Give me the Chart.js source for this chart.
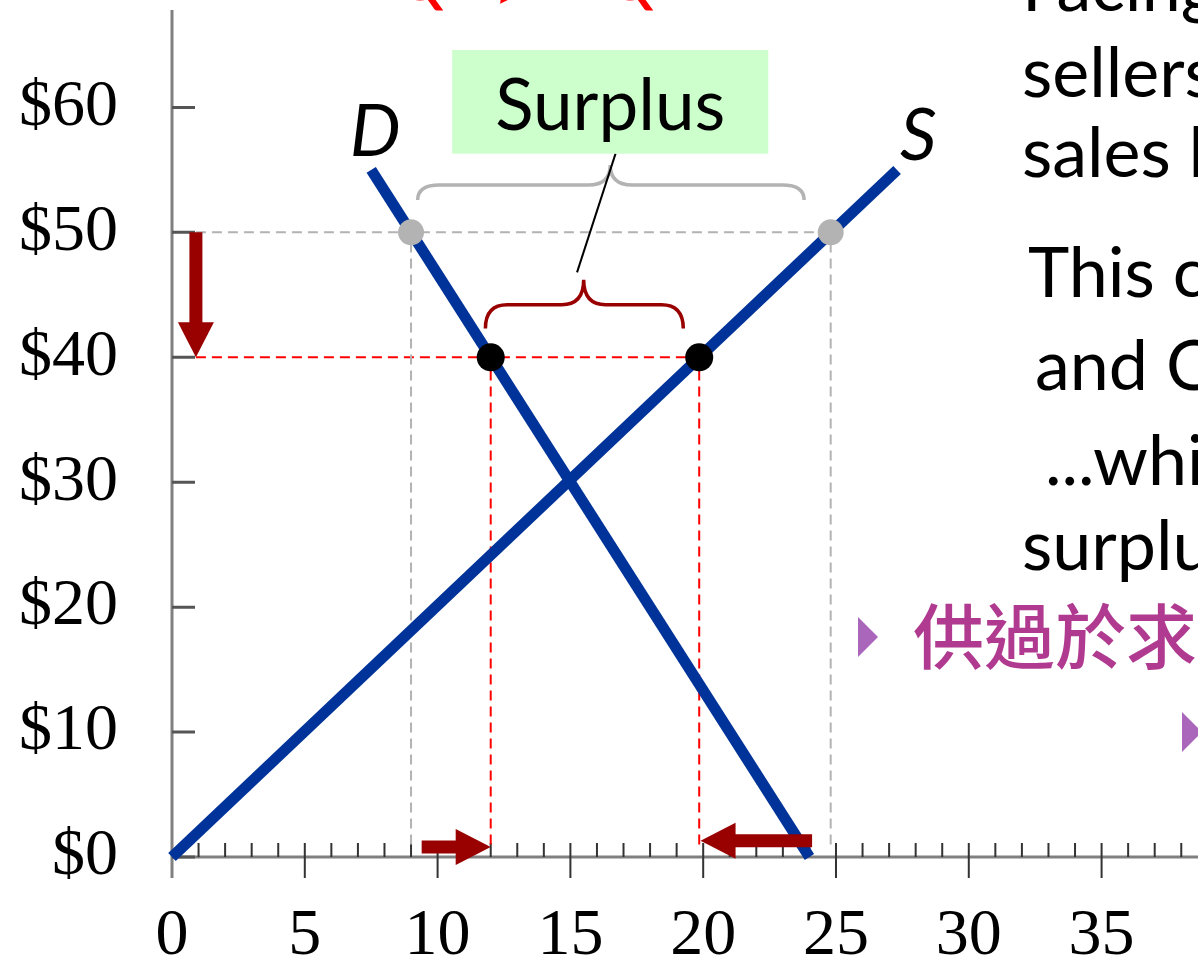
<!DOCTYPE html>
<html>
<head>
<meta charset="utf-8">
<script src="https://cdn.jsdelivr.net/npm/chart.js@4.4.1/dist/chart.umd.min.js"></script>
<style>
  html, body { margin: 0; padding: 0; background: #fff; overflow: hidden; }
  #wrap { position: relative; width: 1198px; height: 966px; overflow: hidden; }
  #chart { position: absolute; left: 0; top: 0; }
  .t { position: absolute; font-family: Lato, "Noto Sans", sans-serif; font-size: 70px; line-height: 70px; white-space: nowrap; color: #000; }
  .cjk { position: absolute; font-family: "Noto Sans CJK TC", sans-serif; font-weight: 500; font-size: 71px; line-height: 71px; white-space: nowrap; color: #b03a8f; }
  .red { position: absolute; font-family: Lato, sans-serif; font-style: italic; font-size: 70px; line-height: 70px; color: #ff0000; }
  .tri { position: absolute; width: 0; height: 0; border-top: 20px solid transparent; border-bottom: 20px solid transparent; border-left: 20px solid #a966bb; }
</style>
</head>
<body>
<div id="wrap">
  <canvas id="chart" width="1198" height="966"></canvas>

  <div class="red" style="left:396px; top:-62px;">Q</div>
  <div class="red" style="left:494px; top:-50px;">&gt;</div>
  <div class="red" style="left:606px; top:-62px;">Q</div>

  <div class="t" style="left:1022px; top:-51px;">Facing</div>
  <div class="t" style="left:1022px; top:35px;">sellers</div>
  <div class="t" style="left:1022px; top:115px;">sales b</div>
  <div class="t" style="left:1028px; top:235px;">This c</div>
  <div class="t" style="left:1035px; top:328px;">and Q</div>
  <div class="t" style="left:1045px; top:423px;">...whi</div>
  <div class="t" style="left:1022px; top:508px;">surplu</div>

  <div class="tri" style="left:858px; top:617px;"></div>
  <div class="cjk" style="left:913px; top:597px;">供過於求</div>
  <div class="tri" style="left:1182px; top:712px;"></div>
</div>

<script>
// axis ranges (quantity on x, price on y)
const xMax = 38.63;
const yMax = 67.8;

// supply and demand curves
const supplyQ = [0, 27.3];
const supplyP = [0, 55];
const demandQ = [7.5, 24];
const demandP = [55, 0];

// price floor story: old price $50, new price $40
const highPrice = 50;
const highQ = [9, 24.8];     // quantity demanded, quantity supplied at $50
const lowPrice = 40;
const lowQ = [12, 19.85];    // quantity demanded, quantity supplied at $40

// arrows [qFrom, pFrom, qTo, pTo]
const priceArrow = [0.9, 50, 0.9, 40];
const qdArrow = [9.4, 0.8, 12, 0.8];
const qsArrow = [24.1, 1.3, 19.9, 1.3];

// braces [qLeft, qRight, qMid, pTip, pLine, pCusp]
const bigBrace = [9.25, 23.8, 16.5, 52.6, 53.8, 55.4];
const smallBrace = [11.8, 19.25, 15.5, 42.3, 44.2, 46.2];

// label box and pointer
const boxQ = [10.55, 22.45];
const boxP = [56.3, 64.6];
const pointerQ = [15.25, 16.7];
const pointerP = [46.8, 56.3];

const toPts = (qs, ps) => qs.map((q, i) => ({ x: q, y: ps[i] }));

const blue = '#003399';
const darkRed = '#990000';
const grey = '#b3b3b3';

const econPlugin = {
  id: 'econ',
  beforeDatasetsDraw(chart) {
    const { ctx, scales: { x, y } } = chart;
    const X = v => x.getPixelForValue(v);
    const Y = v => y.getPixelForValue(v);
    ctx.save();
    // axis lines
    ctx.strokeStyle = '#808080';
    ctx.lineWidth = 3;
    ctx.beginPath();
    ctx.moveTo(X(0), Y(yMax));
    ctx.lineTo(X(0), Y(0) + 21);
    ctx.moveTo(X(0), Y(0));
    ctx.lineTo(X(xMax), Y(0));
    ctx.stroke();
    // y ticks, pointing inward
    ctx.strokeStyle = '#555';
    ctx.beginPath();
    y.ticks.forEach(t => {
      ctx.moveTo(X(0), Y(t.value));
      ctx.lineTo(X(0) + 23, Y(t.value));
    });
    ctx.stroke();
    // x ticks: minor up, major through
    ctx.strokeStyle = '#333';
    ctx.lineWidth = 2;
    ctx.beginPath();
    x.ticks.forEach(t => {
      if (t.value === 0) return;
      ctx.moveTo(X(t.value), Y(0) - 14);
      ctx.lineTo(X(t.value), Y(0) + (t.value % 5 === 0 ? 21 : 0));
    });
    ctx.stroke();
    ctx.restore();
  },
  afterDatasetsDraw(chart) {
    const { ctx, scales: { x, y } } = chart;
    const X = v => x.getPixelForValue(v);
    const Y = v => y.getPixelForValue(v);
    ctx.save();

    function arrow(a) {
      const x1 = X(a[0]), y1 = Y(a[1]), x2 = X(a[2]), y2 = Y(a[3]);
      const ang = Math.atan2(y2 - y1, x2 - x1);
      const head = 35, half = 18;
      const bx = x2 - head * Math.cos(ang), by = y2 - head * Math.sin(ang);
      ctx.strokeStyle = darkRed;
      ctx.fillStyle = darkRed;
      ctx.lineWidth = 13;
      ctx.lineCap = 'butt';
      ctx.beginPath();
      ctx.moveTo(x1, y1);
      ctx.lineTo(bx + Math.cos(ang), by + Math.sin(ang));
      ctx.stroke();
      ctx.beginPath();
      ctx.moveTo(x2, y2);
      ctx.lineTo(bx + half * Math.sin(ang), by - half * Math.cos(ang));
      ctx.lineTo(bx - half * Math.sin(ang), by + half * Math.cos(ang));
      ctx.closePath();
      ctx.fill();
    }
    arrow(priceArrow);
    arrow(qdArrow);
    arrow(qsArrow);

    function brace(b, color) {
      const L = X(b[0]), R = X(b[1]), M = X(b[2]);
      const tip = Y(b[3]), line = Y(b[4]), cusp = Y(b[5]);
      const r = 22;
      ctx.strokeStyle = color;
      ctx.lineWidth = 3.5;
      ctx.beginPath();
      ctx.moveTo(L, tip);
      ctx.quadraticCurveTo(L, line, L + r, line);
      ctx.lineTo(M - r, line);
      ctx.quadraticCurveTo(M, line, M, cusp);
      ctx.quadraticCurveTo(M, line, M + r, line);
      ctx.lineTo(R - r, line);
      ctx.quadraticCurveTo(R, line, R, tip);
      ctx.stroke();
    }
    brace(bigBrace, grey);
    brace(smallBrace, darkRed);

    // pointer from small brace to label box
    ctx.strokeStyle = '#000';
    ctx.lineWidth = 2;
    ctx.beginPath();
    ctx.moveTo(X(pointerQ[0]), Y(pointerP[0]));
    ctx.lineTo(X(pointerQ[1]), Y(pointerP[1]));
    ctx.stroke();

    // Surplus box
    ctx.fillStyle = '#ccffcc';
    ctx.fillRect(X(boxQ[0]), Y(boxP[1]), X(boxQ[1]) - X(boxQ[0]), Y(boxP[0]) - Y(boxP[1]));
    ctx.fillStyle = '#000';
    ctx.font = '71px Lato, sans-serif';
    ctx.textAlign = 'center';
    ctx.textBaseline = 'alphabetic';
    ctx.fillText('Surplus', (X(boxQ[0]) + X(boxQ[1])) / 2, 130);

    // curve labels
    ctx.font = 'italic 72px Lato, sans-serif';
    ctx.fillText('D', X(7.65), Y(56.1));
    ctx.fillText('S', X(28.1), Y(55.8));
    ctx.restore();
  }
};

const guide = (pts, color) => ({
  data: pts, showLine: true, borderColor: color, borderWidth: 2,
  borderDash: [10, 6], pointRadius: 0, order: 3, clip: false
});

new Chart(document.getElementById('chart'), {
  type: 'scatter',
  data: {
    datasets: [
      { data: toPts(highQ, [highPrice, highPrice]), pointRadius: 13, pointBackgroundColor: grey,
        pointBorderWidth: 0, showLine: false, order: 0, clip: false },
      { data: toPts(lowQ, [lowPrice, lowPrice]), pointRadius: 14, pointBackgroundColor: '#000',
        pointBorderWidth: 0, showLine: false, order: 0, clip: false },
      { data: toPts(supplyQ, supplyP), showLine: true, borderColor: blue, borderWidth: 11,
        pointRadius: 0, order: 1, clip: false },
      { data: toPts(demandQ, demandP), showLine: true, borderColor: blue, borderWidth: 11,
        pointRadius: 0, order: 1, clip: false },
      guide(toPts([0.9, highQ[1]], [highPrice, highPrice]), grey),
      guide(toPts([highQ[0], highQ[0]], [1, highPrice]), grey),
      guide(toPts([highQ[1], highQ[1]], [1, highPrice]), grey),
      guide(toPts([0.9, lowQ[1]], [lowPrice, lowPrice]), '#ff0000'),
      guide(toPts([lowQ[0], lowQ[0]], [1, lowPrice]), '#ff0000'),
      guide(toPts([lowQ[1], lowQ[1]], [1, lowPrice]), '#ff0000')
    ]
  },
  options: {
    responsive: false,
    animation: false,
    devicePixelRatio: 1,
    layout: { autoPadding: false, padding: { top: 10, left: 0, right: 0, bottom: 0 } },
    plugins: { legend: { display: false }, tooltip: { enabled: false } },
    scales: {
      x: {
        type: 'linear', min: 0, max: xMax,
        grid: { display: false, drawTicks: false },
        border: { display: false },
        ticks: {
          stepSize: 1, autoSkip: false, maxRotation: 0, includeBounds: false, padding: 40,
          color: '#000', font: { family: 'Liberation Serif', size: 66 },
          callback: v => (v % 5 === 0 ? String(v) : '')
        },
        afterFit: s => { s.height = 109; s.paddingLeft = 0; s.paddingRight = 0; }
      },
      y: {
        type: 'linear', min: 0, max: yMax,
        grid: { display: false, drawTicks: false },
        border: { display: false },
        ticks: {
          stepSize: 10, includeBounds: false, padding: 54,
          color: '#000', font: { family: 'Liberation Serif', size: 66 },
          callback: v => '$' + v
        },
        afterFit: s => { s.width = 172; s.paddingTop = 0; s.paddingBottom = 0; }
      }
    }
  },
  plugins: [econPlugin]
});
</script>
</body>
</html>
